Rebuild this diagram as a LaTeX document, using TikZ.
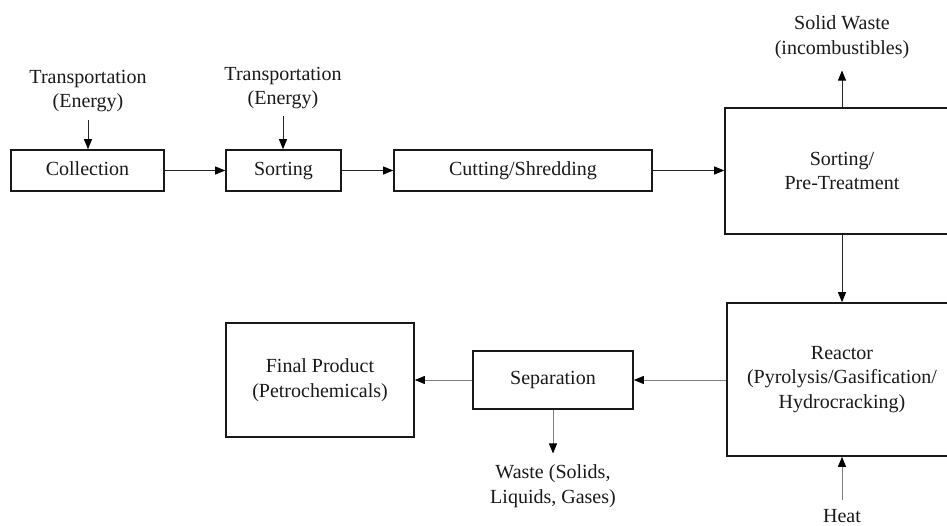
\documentclass[tikz,border=0pt]{standalone}
\usepackage{fontspec}
\setmainfont{Liberation Serif}
\usetikzlibrary{arrows.meta}
\begin{document}
\begin{tikzpicture}[x=1pt,y=-1pt,
  box/.style={draw=black!90, line width=1.6pt, inner sep=0pt, align=center,
    font=\fontsize{20}{24.5}\selectfont, text=black!90},
  lbl/.style={inner sep=0pt, align=center, font=\fontsize{20}{24.5}\selectfont, text=black!90},
  arr/.style={-{Triangle[length=10pt,width=8pt,color=black]}, line width=0.8pt, draw=black!85},
  arrg/.style={arr, draw=black!50}]
\useasboundingbox (0,0) rectangle (947,526);
\clip (0,0) rectangle (947,526);
% boxes
\node[box, minimum width=153pt, minimum height=41pt] (coll) at (87.5,170.5) {\vphantom{(}Collection};
\node[box, minimum width=115pt, minimum height=41pt] (sort) at (283.5,170.5) {\vphantom{(}Sorting};
\node[box, minimum width=258pt, minimum height=41pt] (cut) at (523,170.5) {\vphantom{(}Cutting/Shredding};
\node[box, minimum width=234pt, minimum height=126pt] (pre) at (842,171) {Sorting/\\Pre-Treatment};
\node[box, minimum width=230pt, minimum height=153pt] (reac) at (842,379.5) {Reactor\\(Pyrolysis/Gasification/\\Hydrocracking)};
\node[box, minimum width=160pt, minimum height=58pt] (sep) at (553,380) {\vphantom{(}Separation};
\node[box, minimum width=188pt, minimum height=114pt] (fin) at (320,380) {Final Product\\(Petrochemicals)};
% labels
\node[lbl] (t1) at (88,91) {Transportation\\(Energy)};
\node[lbl] (t2) at (283,88) {Transportation\\(Energy)};
\node[lbl] (sw) at (842,37) {Solid Waste\\(incombustibles)};
\node[lbl] (waste) at (553,486) {Waste (Solids,\\Liquids, Gases)};
\node[lbl] (heat) at (842,516) {Heat};
% connectors
\draw[arr, shorten <=8pt] (t1.south) -- (t1.south |- coll.north);
\draw[arr, shorten <=7pt] (t2.south) -- (t2.south |- sort.north);
\draw[arr] (coll.east) -- (coll.east -| sort.west);
\draw[arr] (sort.east) -- (sort.east -| cut.west);
\draw[arr] (cut.east) -- (cut.east -| pre.west);
\draw[arr, shorten >=12pt] (pre.north) -- (sw.south);
\draw[arr] (pre.south) -- (reac.north);
\draw[arrg] (sep.east -| reac.west) -- (sep.east);
\draw[arrg] (sep.west) -- (fin.east);
\draw[arrg, shorten >=11pt] (sep.south) -- (waste.north);
\draw[arrg, shorten <=9pt] (heat.north) -- (reac.south);
\end{tikzpicture}
\end{document}
